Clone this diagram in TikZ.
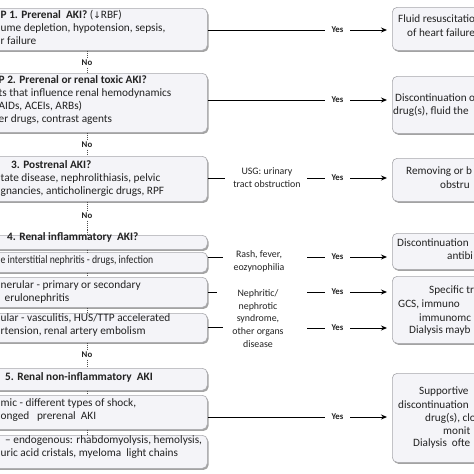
\documentclass[tikz,border=0pt]{standalone}
\usepackage{fontspec}
\setmainfont{Carlito}
\newfontfamily\symf{DejaVu Sans}
\usetikzlibrary{shadows,arrows.meta}
\definecolor{boxfill}{HTML}{F4F4F8}
\definecolor{boxline}{HTML}{A8A8AC}
\definecolor{txt}{HTML}{222222}
\tikzset{
  box/.style={draw=boxline, line width=0.6pt, fill=boxfill, rounded corners=5pt, anchor=north west,
    drop shadow={shadow xshift=1.3pt, shadow yshift=-1.6pt, fill=black!45, opacity=0.8}},
  ltxt/.style={anchor=north west, align=left, inner sep=0pt, text=txt, font=\fontsize{11.3}{13}\selectfont},
  rtxt/.style={anchor=west, inner sep=0pt, text=txt, font=\fontsize{11.2}{13}\selectfont},
  lbl/.style={align=center, inner ysep=0pt, inner xsep=0pt, text=txt, font=\fontsize{9.9}{12.8}\selectfont},
  yes/.style={inner xsep=6.5pt, inner ysep=1pt, text=txt, font=\bfseries\fontsize{8.8}{10}\selectfont},
  no/.style={inner xsep=1pt, inner ysep=1.5pt, text=txt, font=\bfseries\fontsize{8.8}{10}\selectfont},
  conn/.style={line width=0.9pt, black},
  arr/.style={line width=0.9pt, black, -{Stealth[length=6pt,width=5pt]}, shorten >=5pt},
  dot/.style={line width=1pt, black!70, dash pattern=on 1.2pt off 1pt}
}
\begin{document}
\begin{tikzpicture}[x=1pt,y=-1pt]
\useasboundingbox (0,0) rectangle (474,474);
\fill[white] (0,0) rectangle (474,474);
\clip (0,0) rectangle (474,474);

% ---------- left boxes ----------
\node[box, minimum width=240pt, minimum height=42pt] (b1) at (-33,8) {};
\node[box, minimum width=240pt, minimum height=59pt] (b2) at (-33,73) {};
\node[box, minimum width=240pt, minimum height=45pt] (b3) at (-33,156) {};
\node[box, minimum width=240pt, minimum height=14pt] (b4h) at (-33,235) {};
\node[box, minimum width=240pt, minimum height=20pt] (b4a) at (-33,252) {};
\node[box, minimum width=240pt, minimum height=30pt] (b4b) at (-33,277) {};
\node[box, minimum width=240pt, minimum height=29pt] (b4c) at (-33,313) {};
\node[box, minimum width=240pt, minimum height=22pt] (b5h) at (-33,368) {};
\node[box, minimum width=240pt, minimum height=34pt] (b5a) at (-33,395) {};
\node[box, minimum width=240pt, minimum height=33pt] (b5b) at (-33,435) {};

% ---------- right boxes ----------
\node[box, minimum width=170pt, minimum height=43pt] (r1) at (392,7) {};
\node[box, minimum width=170pt, minimum height=57pt] (r2) at (392,76) {};
\node[box, minimum width=170pt, minimum height=43pt] (r3) at (392,158) {};
\node[box, minimum width=170pt, minimum height=36pt] (r4a) at (392,233) {};
\node[box, minimum width=170pt, minimum height=67pt] (r4b) at (392,276) {};
\node[box, minimum width=170pt, minimum height=89pt] (r5) at (392,373) {};

% ---------- left texts ----------
\node[ltxt] (t1) at (0.5,10.5) {\textbf{P 1. Prerenal\ \ AKI?} ({\symf\fontsize{9}{10}\selectfont↓}RBF)\\ume depletion, hypotension, sepsis,\\r failure};
\node[ltxt] (t2) at (-1.5,75.5) {\textbf{P 2. Prerenal or renal toxic AKI?}\\ts that influence renal hemodynamics\\AIDs, ACEIs, ARBs)\\er drugs, contrast agents};
\node[ltxt] (t3a) at (11,160.5) {\textbf{3. Postrenal AKI?}};
\node[ltxt] (t3) at (0.5,173.5) {tate disease, nephrolithiasis, pelvic\\gnancies, anticholinergic drugs, RPF};
\node[ltxt] (t4h) at (7,232.5) {\textbf{4. Renal inflammatory\ \ AKI?}};
\node[ltxt] (t4a) at (0.5,255.5) {\scalebox{0.86}[1]{e interstitial nephritis - drugs, infection}};
\node[ltxt] (t4b) at (0.5,280.5) {nerular - primary or secondary\\\hspace*{4pt}erulonephritis};
\node[ltxt] (t4c) at (0.5,313.5) {ular - vasculitis, HUS/TTP accelerated\\rtension, renal artery embolism};
\node[ltxt] (t5h) at (5,372.5) {\textbf{5. Renal non-inflammatory\ \ AKI}};
\node[ltxt] (t5a) at (0.5,398.5) {mic - different types of shock,\\onged \ \ prerenal\ \ AKI};
\node[ltxt] (t5b) at (0.5,435.5) {\hspace*{4.5pt}– endogenous: rhabdomyolysis, hemolysis,\\uric acid cristals, myeloma\ \ light chains};

% ---------- right texts ----------
\node[rtxt] (u1a) at (398,19) {Fluid resuscitatio};
\node[rtxt] (u1b) at (407,33) {of heart failure};
\node[rtxt] (u2a) at (395,98) {Discontinuation o};
\node[rtxt] (u2b) at (393,111) {drug(s), fluid the};
\node[rtxt] (u3a) at (406,172) {Removing or b};
\node[rtxt] (u3b) at (440,185) {obstru};
\node[rtxt] (u4aa) at (397,243) {Discontinuation};
\node[rtxt] (u4ab) at (447,256) {antibi};
\node[rtxt] (u4ba) at (429,291) {Specific tre};
\node[rtxt] (u4bb) at (398,304) {GCS, immuno};
\node[rtxt] (u4bc) at (419,318) {immunomc};
\node[rtxt] (u4bd) at (409,331) {Dialysis mayb};
\node[rtxt] (u5a) at (419,392) {Supportive};
\node[rtxt] (u5b) at (398,405) {discontinuation};
\node[rtxt] (u5c) at (425,418) {drug(s), clo};
\node[rtxt] (u5d) at (443,431) {monit};
\node[rtxt] (u5e) at (413,444) {Dialysis\ \ ofte};

% ---------- middle labels ----------
\node[lbl] (usg) at (267,178) {USG: urinary\\tract obstruction};
\node[lbl] (rash) at (259,261.5) {Rash, fever,\\eozynophilia};
\node[lbl] (neph) at (258,318.5) {Nephritic/\\nephrotic\\syndrome,\\other organs\\disease};

% ---------- Yes connectors ----------
\node[yes] (y1) at (337.5,30) {Yes};
\draw[conn] (b1.east |- y1.west) -- (y1.west);
\draw[arr] (y1.east) -- (r1.west |- y1.east);

\node[yes] (y2) at (337.5,100) {Yes};
\draw[conn] (b2.east |- y2.west) -- (y2.west);
\draw[arr] (y2.east) -- (r2.west |- y2.east);

\node[yes] (y3) at (337.5,178) {Yes};
\coordinate (a3) at (225,178);
\coordinate (s3) at (307,178);
\draw[conn] (b3.east |- a3) -- (a3);
\draw[conn] (s3) -- (y3.west);
\draw[arr] (y3.east) -- (r3.west |- y3.east);

\node[yes] (y4a) at (337.5,257) {Yes};
\coordinate (a4a) at (223,257);
\coordinate (s4a) at (307,257);
\draw[conn] (b4a.east |- a4a) -- (a4a);
\draw[conn] (s4a) -- (y4a.west);
\draw[arr] (y4a.east) -- (r4a.west |- y4a.east);

\node[yes] (y4b) at (337.5,292) {Yes};
\coordinate (a4b) at (217,292);
\coordinate (s4b) at (307,292);
\draw[conn] (b4b.east |- a4b) -- (a4b);
\draw[conn] (s4b) -- (y4b.west);
\draw[arr] (y4b.east) -- (r4b.west |- y4b.east);

\node[yes] (y4c) at (337.5,328) {Yes};
\coordinate (a4c) at (223,327.5);
\coordinate (s4c) at (307,328);
\draw[conn] (b4c.east |- a4c) -- (a4c);
\draw[conn] (s4c) -- (y4c.west);
\draw[arr] (y4c.east) -- (r4b.west |- y4c.east);

\node[yes] (y5) at (337.5,417) {Yes};
\draw[conn] (b5a.east |- y5.west) -- (y5.west);
\draw[arr] (y5.east) -- (r5.west |- y5.east);

% ---------- No connectors ----------
\node[no] (n1) at (87,63) {No};
\draw[dot] (b1.south -| n1) -- (n1.north);
\draw[dot] (n1.south) -- (b2.north -| n1);

\node[no] (n2) at (87,145) {No};
\draw[dot] (b2.south -| n2) -- (n2.north);
\draw[dot] (n2.south) -- (b3.north -| n2);

\node[no] (n3) at (87,216) {No};
\draw[dot] (b3.south -| n3) -- (n3.north);
\draw[dot] (n3.south) -- (b4h.north -| n3);

\node[no] (n4) at (87,355) {No};
\draw[dot] (b4c.south -| n4) -- (n4.north);
\draw[dot] (n4.south) -- (b5h.north -| n4);

\draw[dot] (b4h.south -| n3) -- (b4a.north -| n3);
\draw[dot] (b4a.south -| n3) -- (b4b.north -| n3);
\draw[dot] (b4b.south -| n3) -- (b4c.north -| n3);
\draw[dot] (b5h.south -| n4) -- (b5a.north -| n4);
\draw[dot] (b5a.south -| n4) -- (b5b.north -| n4);
\end{tikzpicture}
\end{document}
